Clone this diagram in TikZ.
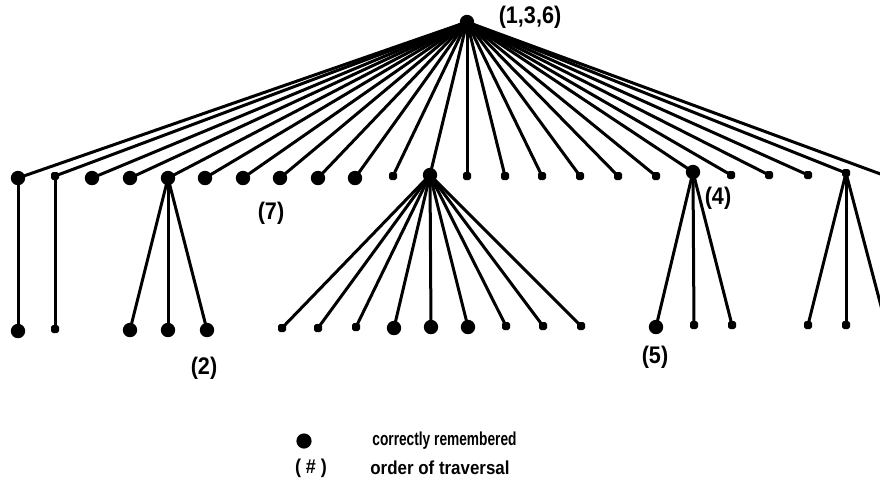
\documentclass[tikz,border=0pt]{standalone}
\usepackage{fontspec}
\newfontfamily\labfont{Liberation Sans}[FakeStretch=0.9]
\newfontfamily\keyfonta{Liberation Sans}[FakeStretch=0.73]
\newfontfamily\keyfontb{Liberation Sans}[FakeStretch=0.9]
\begin{document}
\begin{tikzpicture}[x=0.5pt,y=-0.5pt,
  big/.style={circle,fill=black,minimum size=7.2pt,inner sep=0pt},
  sm/.style={rectangle,rounded corners=0.9pt,fill=black,minimum size=4pt,inner sep=0pt},
  edge/.style={line width=1.5pt,black},
  lab/.style={font=\labfont\bfseries\fontsize{12}{14}\selectfont,inner sep=0pt},
  keya/.style={font=\keyfonta\bfseries\fontsize{9.4}{11}\selectfont,inner sep=0pt},
  keyb/.style={font=\keyfontb\bfseries\fontsize{9.4}{11}\selectfont,inner sep=0pt}]
\useasboundingbox (0,0) rectangle (880,495);
\clip (0,0) rectangle (880,495);

% root
\node[big] (r) at (467,22) {};

% first level
\foreach \n/\x/\y/\s in {
  a1/18/178/big, a2/55/176/sm, a3/92/178/big, a4/130/178/big,
  a5/168/178/big, a6/205/178/big, a7/243/178/big, a8/280/178/big,
  a9/318/178/big, a10/355/178/big, a11/393/176/sm, a12/430/175/big,
  a13/467/176/sm, a14/505/176/sm, a15/542/176/sm, a16/580/176/sm,
  a17/618/176/sm, a18/656/176/sm, a19/693/172/big, a20/731/175/sm,
  a21/769/175/sm, a22/808/175/sm, a23/846/173/sm, a24/886/176/sm}
  \node[\s] (\n) at (\x,\y) {};

% second level
\foreach \n/\x/\y/\s in {
  b1/18/331/big, b2/55/329/sm,
  c1/130/330/big, c2/168/330/big, c3/207/330/big,
  d1/282/328/sm, d2/318/328/sm, d3/356/327/sm, d4/394/328/big,
  d5/431/327/big, d6/468/327/big, d7/506/326/sm, d8/543/326/sm, d9/581/326/sm,
  e1/656/327/big, e2/694/325/sm, e3/732/325/sm,
  f1/808/325/sm, f2/846/325/sm, f3/886/325/sm}
  \node[\s] (\n) at (\x,\y) {};

% connectors
\foreach \n in {a1,a2,a3,a4,a5,a6,a7,a8,a9,a10,a11,a12,
                a13,a14,a15,a16,a17,a18,a19,a20,a21,a22,a23,a24}
  \draw[edge] (r.center) -- (\n.center);
\draw[edge] (a1.center) -- (b1.center);
\draw[edge] (a2.center) -- (b2.center);
\foreach \n in {c1,c2,c3} \draw[edge] (a5.center) -- (\n.center);
\foreach \n in {d1,d2,d3,d4,d5,d6,d7,d8,d9} \draw[edge] (a12.center) -- (\n.center);
\foreach \n in {e1,e2,e3} \draw[edge] (a19.center) -- (\n.center);
\foreach \n in {f1,f2,f3} \draw[edge] (a23.center) -- (\n.center);

% traversal order labels
\node[lab] (l136) at (530,17) {(1,3,6)};
\node[lab] (l7) at (271,213) {(7)};
\node[lab] (l4) at (718,198) {(4)};
\node[lab] (l2) at (204,368) {(2)};
\node[lab] (l5) at (655,357) {(5)};

% legend
\node[big,minimum size=7.6pt] (kdot) at (304,441) {};
\node[keya,anchor=west] (ktext1) at (372,441) {correctly remembered};
\node[lab,font=\labfont\bfseries\fontsize{10}{12}\selectfont] (khash) at (311,468) {( \# )};
\node[keyb,anchor=west] (ktext2) at (370,468) {order of traversal};
\end{tikzpicture}
\end{document}
